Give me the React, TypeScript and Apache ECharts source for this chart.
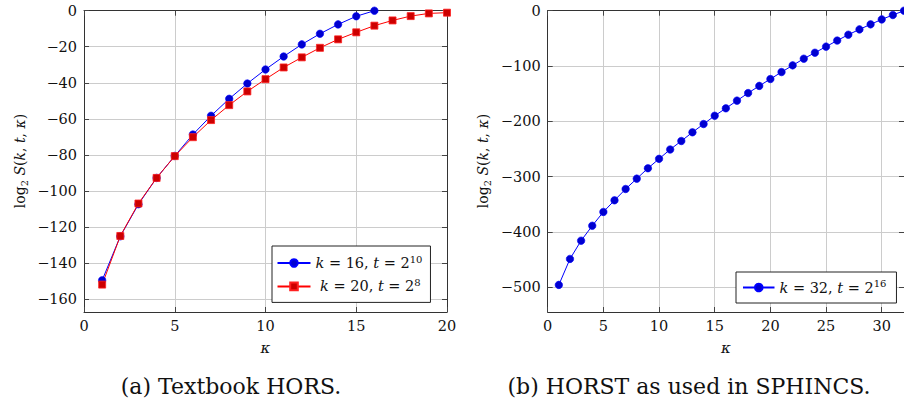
import React, { useEffect, useRef } from "react";
import * as echarts from "echarts";

// ---------- data ----------
const kappaA: number[] = [1, 2, 3, 4, 5, 6, 7, 8, 9, 10, 11, 12, 13, 14, 15, 16, 17, 18, 19, 20];
const hors16: number[] = [-149.6, -125.2, -107.4, -92.8, -80.6, -68.7, -58.3, -48.9, -40.4, -32.6, -25.4, -18.7, -12.8, -7.6, -3.1, 0];
const hors20: number[] = [-152, -125, -107, -92.8, -80.7, -70.2, -60.7, -52.4, -44.8, -38.0, -31.5, -25.9, -20.6, -15.9, -12.0, -8.3, -5.4, -3.0, -1.5, -1.1];

const kappaB: number[] = [1, 2, 3, 4, 5, 6, 7, 8, 9, 10, 11, 12, 13, 14, 15, 16, 17, 18, 19, 20, 21, 22, 23, 24, 25, 26, 27, 28, 29, 30, 31, 32];
const horst32: number[] = [-496, -449, -416, -389, -364, -343, -322.5, -303.8, -285, -268, -251, -235.7, -220, -205, -190, -176.6, -162.7, -149, -136, -123.6, -111, -98.9, -86.8, -76, -65, -54, -43.4, -33.8, -24.7, -15.7, -7.8, 0];

const xTicksA: number[] = [0, 5, 10, 15, 20];
const yTicksA: number[] = [-160, -140, -120, -100, -80, -60, -40, -20, 0];
const xTicksB: number[] = [0, 5, 10, 15, 20, 25, 30];
const yTicksB: number[] = [-500, -400, -300, -200, -100, 0];

const nameA16 = "k = 16, t = 2^10";
const nameA20 = "k = 20, t = 2^8";
const nameB32 = "k = 32, t = 2^16";
const legendRich: Record<string, string> = {
  [nameA16]: "{i|k} = 16, {i|t} = 2{sup|10}",
  [nameA20]: " {i|k} = 20, {i|t} = 2{sup|8}",
  [nameB32]: "{i|k} = 32, {i|t} = 2{sup|16}",
};

const captionA = "(a) Textbook HORS.";
const captionB = "(b) HORST as used in SPHINCS.";

const FONT = "'DejaVu Serif', serif";
const GRID_COLOR = "#cccccc";
const FRAME = "#333333";

const fmt = (v: number) => String(v).replace("-", "\u2212");

function makeAxes(gridIndex: number, xMax: number, xTicks: number[], yMin: number, yTicks: number[]) {
  const tick = { show: true, inside: true, length: 5, lineStyle: { color: "#444", width: 1 } };
  const line = { show: true, onZero: false, lineStyle: { color: FRAME, width: 1 } };
  const label = { fontFamily: FONT, fontSize: 14.5, color: "#111" };
  const xAxes = [
    {
      type: "value", gridIndex, min: 0, max: xMax, position: "bottom",
      axisLine: line,
      axisTick: { ...tick, customValues: xTicks },
      axisLabel: { ...label, margin: 6, customValues: xTicks, formatter: fmt },
      splitLine: { show: true, lineStyle: { color: GRID_COLOR, width: 1 } },
      name: "κ", nameLocation: "middle", nameGap: 28,
      nameTextStyle: { fontFamily: FONT, fontStyle: "italic", fontSize: 15, color: "#111" },
    },
    {
      type: "value", gridIndex, min: 0, max: xMax, position: "top",
      axisLine: line,
      axisTick: { ...tick, customValues: xTicks },
      axisLabel: { show: false, customValues: xTicks },
      splitLine: { show: false },
    },
  ];
  const yAxes = [
    {
      type: "value", gridIndex, min: yMin, max: 0, position: "left",
      axisLine: line,
      axisTick: { ...tick, customValues: yTicks },
      axisLabel: { ...label, margin: 7, customValues: yTicks, formatter: fmt },
      splitLine: { show: true, lineStyle: { color: GRID_COLOR, width: 1 } },
    },
    {
      type: "value", gridIndex, min: yMin, max: 0, position: "right",
      axisLine: line,
      axisTick: { ...tick, customValues: yTicks },
      axisLabel: { show: false, customValues: yTicks },
      splitLine: { show: false },
    },
  ];
  return { xAxes, yAxes };
}

const richStyles = {
  i: { fontFamily: FONT, fontStyle: "italic", fontSize: 14.5, lineHeight: 18, color: "#111" },
  sup: { fontFamily: FONT, fontSize: 10, lineHeight: 10, verticalAlign: "top", color: "#111" },
  sub: { fontFamily: FONT, fontSize: 10, lineHeight: 10, verticalAlign: "bottom", color: "#111" },
};

export default function App() {
  const ref = useRef<HTMLDivElement>(null);
  useEffect(() => {
    document.body.style.margin = "0";
    if (!ref.current) return;
    const chart = echarts.init(ref.current, null, { renderer: "svg" });
    const a = makeAxes(0, 20, xTicksA, -167.2, yTicksA);
    const b = makeAxes(1, 32, xTicksB, -545, yTicksB);

    const yName = (x: number) => ({
      type: "text", x, y: 161, rotation: Math.PI / 2,
      style: {
        text: "log{sub|2} {i|S}({i|k}, {i|t}, {i|κ})",
        fontFamily: FONT, fontSize: 14, lineHeight: 18, fill: "#111",
        align: "center", verticalAlign: "middle",
        rich: {
          i: { fontFamily: FONT, fontStyle: "italic", fontSize: 14, lineHeight: 18 },
          sub: { fontFamily: FONT, fontSize: 10, lineHeight: 10, verticalAlign: "bottom" },
        },
      },
    });

    const legendBase = {
      orient: "vertical",
      backgroundColor: "#ffffff",
      borderColor: "#222",
      borderWidth: 1,
      borderRadius: 0,
      itemHeight: 9.5,
      itemGap: 5.4,
      selectedMode: false,
      formatter: (n: string) => legendRich[n] ?? n,
      textStyle: { fontFamily: FONT, fontSize: 14.5, lineHeight: 18, color: "#111", rich: richStyles },
    };

    chart.setOption({
      animation: false,
      grid: [
        { left: 84, top: 10.7, width: 363, height: 301.3 },
        { left: 547.7, top: 10.7, width: 363, height: 301.3 },
      ],
      xAxis: [...a.xAxes, ...b.xAxes],
      yAxis: [...a.yAxes, ...b.yAxes],
      legend: [
        { ...legendBase, data: [nameA16, nameA20], left: 272, top: 246, padding: [8, 8, 7, 4.5], itemWidth: 33 },
        { ...legendBase, data: [nameB32], left: 736, top: 272, padding: [6.5, 10, 6.5, 6], itemWidth: 31.5 },
      ],
      series: [
        {
          name: nameA16, type: "line", xAxisIndex: 0, yAxisIndex: 0, clip: false,
          data: hors16.map((v, i) => [kappaA[i], v]),
          symbol: "circle", symbolSize: 7.5,
          lineStyle: { color: "#0000ff", width: 1 },
          itemStyle: { color: "#0000d0", borderColor: "#0000ff", borderWidth: 0.6 },
          emphasis: { disabled: true },
        },
        {
          name: nameA20, type: "line", xAxisIndex: 0, yAxisIndex: 0, clip: false,
          data: hors20.map((v, i) => [kappaA[i], v]),
          symbol: "rect", symbolSize: 7,
          lineStyle: { color: "#ff0000", width: 1 },
          itemStyle: { color: "#cc0000", borderColor: "#ff2020", borderWidth: 0.8 },
          emphasis: { disabled: true },
        },
        {
          name: nameB32, type: "line", xAxisIndex: 2, yAxisIndex: 2, clip: false,
          data: horst32.map((v, i) => [kappaB[i], v]),
          symbol: "circle", symbolSize: 7.5,
          lineStyle: { color: "#0000ff", width: 1 },
          itemStyle: { color: "#0000d0", borderColor: "#0000ff", borderWidth: 0.6 },
          emphasis: { disabled: true },
        },
      ],
      graphic: [
        yName(20),
        yName(483),
        {
          type: "text", x: 231, y: 386,
          style: { text: captionA, fontFamily: FONT, fontSize: 22, fill: "#111", align: "center", verticalAlign: "middle" },
        },
        {
          type: "text", x: 689, y: 386,
          style: { text: captionB, fontFamily: FONT, fontSize: 22, fill: "#111", align: "center", verticalAlign: "middle" },
        },
      ],
    });
    return () => chart.dispose();
  }, []);
  return <div ref={ref} style={{ width: 904, height: 405 }} />;
}
